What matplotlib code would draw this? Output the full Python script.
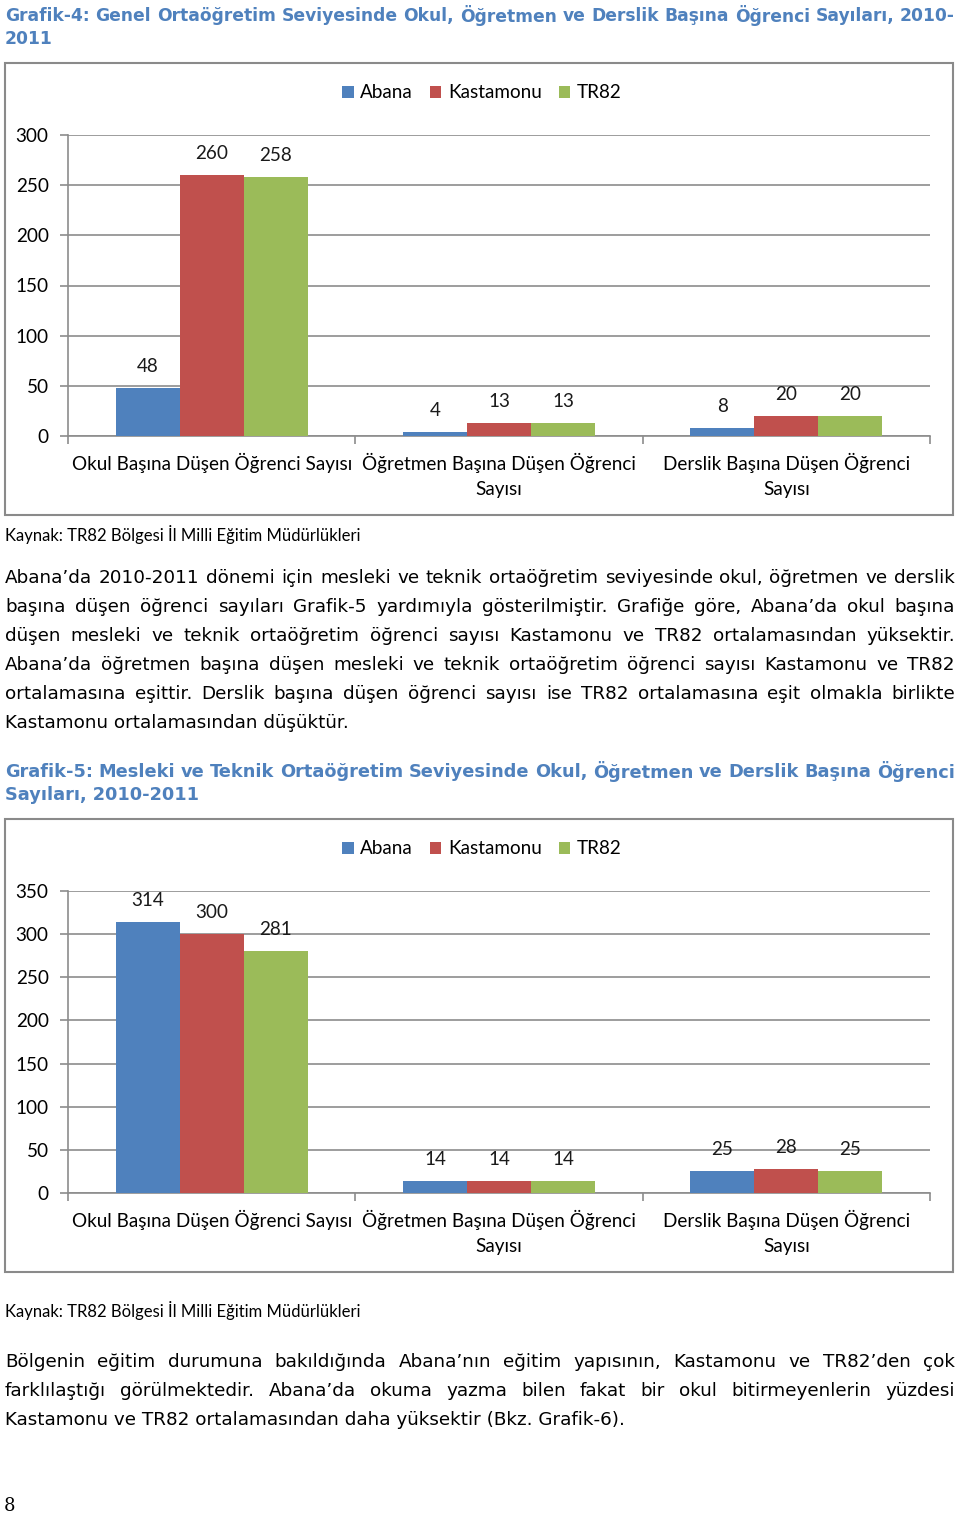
import numpy as np
import matplotlib
matplotlib.use('Agg')
import matplotlib.pyplot as plt
from matplotlib.patches import Rectangle

# data
categories = ['Okul Başına Düşen Öğrenci Sayısı',
              'Öğretmen Başına Düşen Öğrenci\nSayısı',
              'Derslik Başına Düşen Öğrenci\nSayısı']
series_names = ['Abana', 'Kastamonu', 'TR82']
colors = ['#4f81bd', '#c0504d', '#9bbb59']

genel_abana = [48, 4, 8]
genel_kastamonu = [260, 13, 20]
genel_tr82 = [258, 13, 20]

mesleki_abana = [314, 14, 25]
mesleki_kastamonu = [300, 14, 28]
mesleki_tr82 = [281, 14, 25]

title1 = ['Grafik-4: Genel Ortaöğretim Seviyesinde Okul, Öğretmen ve Derslik Başına Öğrenci Sayıları, 2010-',
          '2011']
title2 = ['Grafik-5: Mesleki ve Teknik Ortaöğretim Seviyesinde Okul, Öğretmen ve Derslik Başına Öğrenci',
          'Sayıları, 2010-2011']
para1 = ['Abana’da 2010-2011 dönemi için mesleki ve teknik ortaöğretim seviyesinde okul, öğretmen ve derslik',
         'başına düşen öğrenci sayıları Grafik-5 yardımıyla gösterilmiştir. Grafiğe göre, Abana’da okul başına',
         'düşen mesleki ve teknik ortaöğretim öğrenci sayısı Kastamonu ve TR82 ortalamasından yüksektir.',
         'Abana’da öğretmen başına düşen mesleki ve teknik ortaöğretim öğrenci sayısı Kastamonu ve TR82',
         'ortalamasına eşittir. Derslik başına düşen öğrenci sayısı ise TR82 ortalamasına eşit olmakla birlikte',
         'Kastamonu ortalamasından düşüktür.']
para2 = ['Bölgenin eğitim durumuna bakıldığında Abana’nın eğitim yapısının, Kastamonu ve TR82’den çok',
         'farklılaştığı görülmektedir. Abana’da okuma yazma bilen fakat bir okul bitirmeyenlerin yüzdesi',
         'Kastamonu ve TR82 ortalamasından daha yüksektir (Bkz. Grafik-6).']
source = 'Kaynak: TR82 Bölgesi İl Milli Eğitim Müdürlükleri'

W, H = 960, 1516
fig = plt.figure(figsize=(W / 100, H / 100), dpi=100)
renderer = fig.canvas.get_renderer()

chart_font = 'Lato'
body_font = 'DejaVu Sans'
grid_col = '#8c8c8c'
fs = 13.6


def fx(x):
    return x / W


def fy(y):
    return 1 - y / H


def text_w(s, **kw):
    t = fig.text(0, 0, s, **kw)
    w = t.get_window_extent(renderer).width
    t.remove()
    return w


def paragraph(lines, y0, step, size, x0=5, x1=955, justify_last=False, **kw):
    target = x1 - x0
    # shrink the font if the widest line does not fit
    for ln in lines:
        nat = text_w(ln, fontsize=size, **kw)
        if nat > target - 4:
            size = size * (target - 4) / nat
    for i, ln in enumerate(lines):
        y = fy(y0 + i * step)
        last = (i == len(lines) - 1) and not justify_last
        words = ln.split(' ')
        if last or len(words) == 1:
            fig.text(fx(x0), y, ln, fontsize=size, va='center', ha='left', **kw)
            continue
        widths = [text_w(w, fontsize=size, **kw) for w in words]
        gap = (target - sum(widths)) / (len(words) - 1)
        x = x0
        for w, wd in zip(words, widths):
            fig.text(fx(x), y, w, fontsize=size, va='center', ha='left', **kw)
            x += wd + gap


def chart(frame, plot, ymax, step, vals, legend_y):
    fl, ft, fr, fb = frame
    fig.patches.append(Rectangle((fx(fl), fy(fb)), fx(fr) - fx(fl), fy(ft) - fy(fb),
                                 transform=fig.transFigure, fill=False,
                                 edgecolor='#8a8a8a', lw=1.5))
    pl, pt, pr, pb = plot
    ax = fig.add_axes([fx(pl), fy(pb), fx(pr) - fx(pl), fy(pt) - fy(pb)])
    x = np.arange(len(categories))
    bw = 0.2225
    for k, (v, c, n) in enumerate(zip(vals, colors, series_names)):
        ax.bar(x + (k - 1) * bw, v, bw, color=c, label=n, zorder=3)
        for xi, vi in zip(x + (k - 1) * bw, v):
            ax.annotate(str(vi), (xi, vi), xytext=(0, 15.5), textcoords='offset points',
                        ha='center', va='center', fontsize=fs, family=chart_font,
                        color='#1a1a1a')
    ax.set_xlim(-0.5, 2.5)
    ax.set_ylim(0, ymax)
    ax.set_yticks(np.arange(0, ymax + 1, step))
    ax.yaxis.grid(True, color=grid_col, lw=1.2, zorder=0)
    ax.set_axisbelow(True)
    for s in ['top', 'right']:
        ax.spines[s].set_visible(False)
    for s in ['left', 'bottom']:
        ax.spines[s].set_color(grid_col)
        ax.spines[s].set_linewidth(1.2)
    ax.set_xticks(x)
    ax.set_xticklabels(categories, fontsize=fs, family=chart_font, linespacing=1.55)
    ax.tick_params(axis='x', which='major', length=0, pad=12)
    ax.set_xticks([-0.5, 0.5, 1.5, 2.5], minor=True)
    ax.tick_params(axis='x', which='minor', length=6, color=grid_col, width=1.2)
    ax.tick_params(axis='y', length=6, color=grid_col, width=1.2, pad=8,
                   labelsize=fs)
    for t in ax.get_yticklabels():
        t.set_family(chart_font)
    ax.legend(loc='center', bbox_to_anchor=(fx(482), fy(legend_y)),
              bbox_transform=fig.transFigure, ncol=3, frameon=False,
              prop={'family': chart_font, 'size': fs},
              handlelength=0.6, handleheight=0.6, handletextpad=0.35,
              columnspacing=0.9)
    return ax


# titles / text
paragraph(title1, 16, 22.5, 13, color='#4f81bd', weight='bold', family=body_font)
chart((5, 63, 953, 515), (68, 135, 930, 436), 300, 50,
      [genel_abana, genel_kastamonu, genel_tr82], 93)
fig.text(fx(5), fy(534), source, fontsize=12, family=chart_font, va='center', ha='left')
paragraph(para1, 578, 29, 13.2, family=body_font, color='black')

paragraph(title2, 772, 23, 13, color='#4f81bd', weight='bold', family=body_font)
chart((5, 819, 953, 1272), (68, 891, 930, 1193), 350, 50,
      [mesleki_abana, mesleki_kastamonu, mesleki_tr82], 849)
fig.text(fx(5), fy(1310), source, fontsize=12, family=chart_font, va='center', ha='left')
paragraph(para2, 1362, 29, 13.2, family=body_font, color='black')

fig.text(fx(4), fy(1506), '8', fontsize=13, family='DejaVu Serif', va='center', ha='left')

fig.savefig('out.png', dpi=100)
